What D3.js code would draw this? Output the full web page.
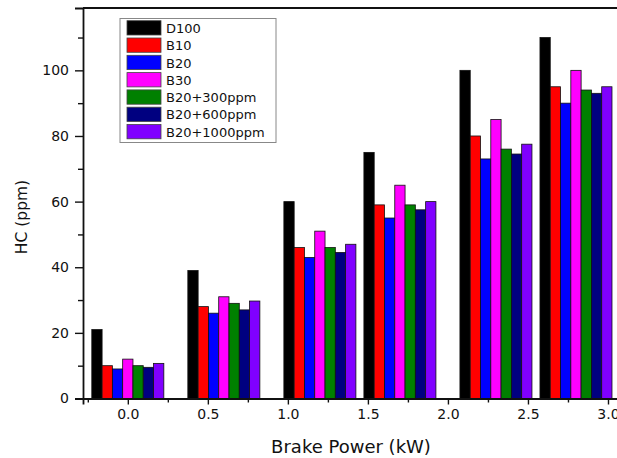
<!DOCTYPE html>
<html>
<head>
<meta charset="utf-8">
<script src="https://cdn.jsdelivr.net/npm/d3@7"></script>
<style>
  body { margin: 0; background: #fff; }
  text { font-family: "DejaVu Sans", sans-serif; fill: #111; }
</style>
</head>
<body>
<svg id="chart" width="617" height="458"></svg>
<script>
// brake power loads (kW) where each group of bars sits
var loads = [0.0, 0.6, 1.2, 1.7, 2.3, 2.8];

var series_names = ["D100", "B10", "B20", "B30", "B20+300ppm", "B20+600ppm", "B20+1000ppm"];
var series_colors = ["#000000", "#ff0000", "#0000ff", "#ff00ff", "#008000", "#000080", "#8000ff"];

// HC emissions (ppm), one array per fuel
var d100      = [21, 39, 60, 75, 100, 110];
var b10       = [10, 28, 46, 59, 80, 95];
var b20       = [9, 26, 43, 55, 73, 90];
var b30       = [12, 31, 51, 65, 85, 100];
var b20_300   = [10, 29, 46, 59, 76, 94];
var b20_600   = [9.5, 27, 44.5, 57.5, 74.5, 93];
var b20_1000  = [10.7, 29.7, 47, 60, 77.5, 95];

var x_ticks = [0.0, 0.5, 1.0, 1.5, 2.0, 2.5, 3.0];
var y_ticks = [0, 20, 40, 60, 80, 100];

var all_series = [d100, b10, b20, b30, b20_300, b20_600, b20_1000];

var svg = d3.select("#chart");
var plot_left = 83, plot_top = 8, plot_bottom = 398.5, plot_right = 640;

var x = d3.scaleLinear().domain([-0.28, 3.2]).range([plot_left, plot_right]);
var y = d3.scaleLinear().domain([0, 119]).range([plot_bottom, plot_top]);

var group_w = 0.45;
var bar_w = group_w / series_names.length;

// bars
var bars = [];
all_series.forEach((vals, s) => {
    vals.forEach((v, i) => {
        bars.push({s: s, load: loads[i], value: v});
    });
});

svg.append("g")
    .selectAll("rect")
    .data(bars)
    .join("rect")
    .attr("x", d => x(d.load - group_w / 2 + d.s * bar_w))
    .attr("y", d => y(d.value))
    .attr("width", d => x(bar_w) - x(0))
    .attr("height", d => y(0) - y(d.value))
    .attr("fill", d => series_colors[d.s])
    .attr("stroke", "#111")
    .attr("stroke-width", 0.8);

// minor ticks
var x_minor = d3.range(-0.25, 3.2, 0.5);
var y_minor = d3.range(10, 119, 20);

svg.append("g")
    .attr("transform", `translate(0,${plot_bottom})`)
    .call(d3.axisBottom(x).tickValues(x_ticks).tickFormat(d3.format(".1f")).tickSize(6).tickPadding(5));
svg.append("g")
    .attr("transform", `translate(0,${plot_bottom})`)
    .call(d3.axisBottom(x).tickValues(x_minor).tickFormat("").tickSize(4))
    .select(".domain").remove();

svg.append("g")
    .attr("transform", `translate(${plot_left},0)`)
    .call(d3.axisLeft(y).tickValues(y_ticks).tickSize(8).tickPadding(6));
svg.append("g")
    .attr("transform", `translate(${plot_left},0)`)
    .call(d3.axisLeft(y).tickValues(y_minor).tickFormat("").tickSize(5))
    .select(".domain").remove();

svg.selectAll(".domain").attr("stroke", "#111").attr("stroke-width", 1.8);
svg.selectAll(".tick line").attr("stroke", "#111").attr("stroke-width", 1.4);
svg.selectAll(".tick text")
    .style("font-family", "'DejaVu Sans', sans-serif")
    .style("font-size", "14px")
    .attr("fill", "#222");

// top frame line
svg.append("line")
    .attr("x1", plot_left).attr("x2", plot_right)
    .attr("y1", plot_top).attr("y2", plot_top)
    .attr("stroke", "#111").attr("stroke-width", 1.8);

// axis titles
svg.append("text")
    .attr("x", 351).attr("y", 453)
    .attr("text-anchor", "middle")
    .style("font-size", "18px")
    .text("Brake Power (kW)");

svg.append("text")
    .attr("transform", "translate(27,217) rotate(-90)")
    .attr("text-anchor", "middle")
    .style("font-size", "15.5px")
    .text("HC (ppm)");

// legend
var legend = svg.append("g");
legend.append("rect")
    .attr("x", 120).attr("y", 18.5)
    .attr("width", 156).attr("height", 124)
    .attr("fill", "#fff")
    .attr("stroke", "#888").attr("stroke-width", 1);

var rows = legend.selectAll("g.row")
    .data(series_names)
    .join("g")
    .attr("class", "row")
    .attr("transform", (d, i) => `translate(127,${20.7 + i * 17.3})`);

rows.append("rect")
    .attr("width", 34).attr("height", 14.3)
    .attr("fill", (d, i) => series_colors[i])
    .attr("stroke", "#444").attr("stroke-width", 0.8);

rows.append("text")
    .attr("x", 39).attr("y", 12.3)
    .style("font-size", "13px")
    .text(d => d);
</script>
</body>
</html>
